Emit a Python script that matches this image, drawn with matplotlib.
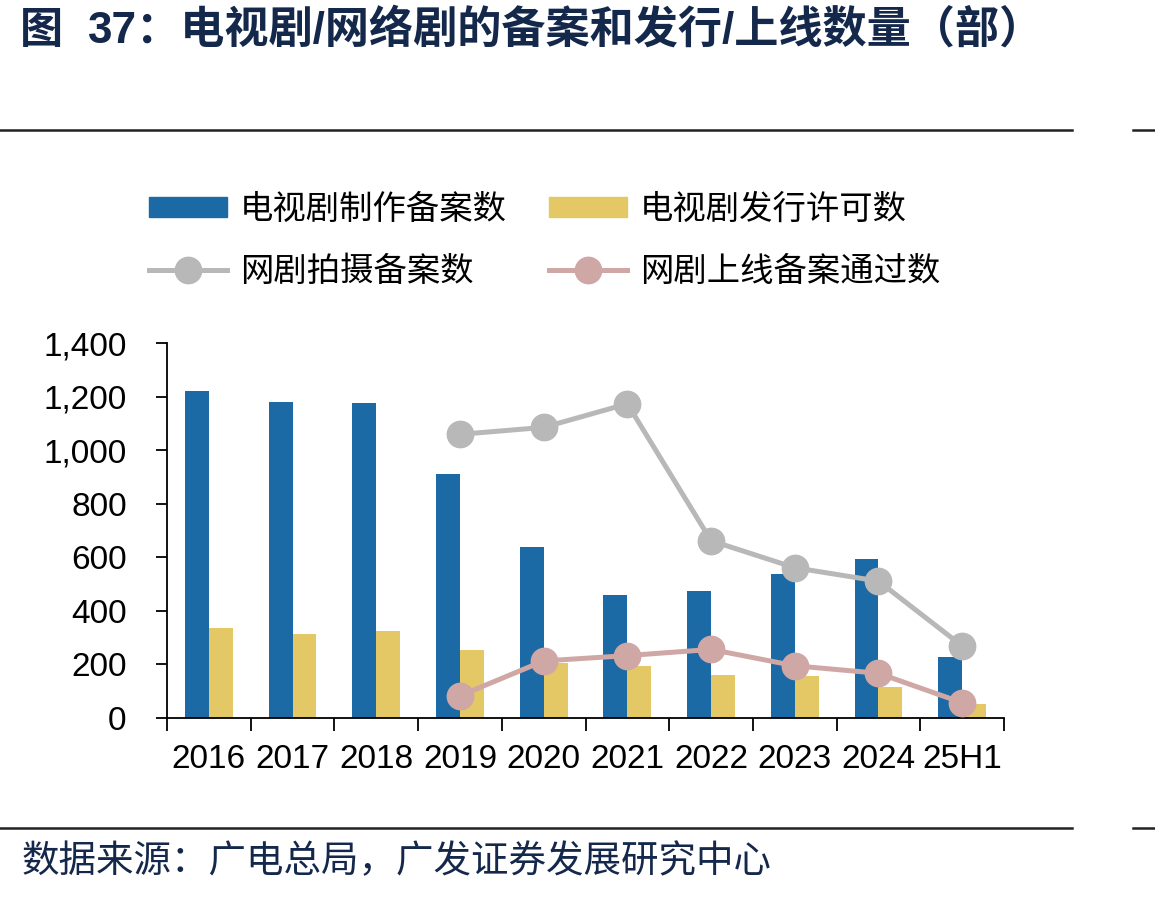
import matplotlib
matplotlib.use('Agg')
import matplotlib.pyplot as plt
from matplotlib.lines import Line2D
from matplotlib.patches import Patch
import numpy as np

# data
years = ['2016', '2017', '2018', '2019', '2020', '2021', '2022', '2023', '2024', '25H1']
tv_record = [1220, 1181, 1175, 912, 637, 458, 473, 537, 593, 229]
tv_license = [335, 314, 324, 254, 204, 194, 159, 157, 115, 52]
web_shoot = [1059, 1085, 1173, 662, 561, 511, 269]
web_online = [83, 213, 233, 256, 195, 167, 57]

cjk = ['Noto Sans CJK SC', 'DejaVu Sans']
latin = ['Liberation Sans', 'Noto Sans CJK SC']
navy = '#14284B'

c_blue = '#1B6AA5'
c_yellow = '#E3C865'
c_gray = '#B8B8B8'
c_pink = '#CFA7A5'

fig = plt.figure(figsize=(11.55, 8.97), dpi=100)
ax = fig.add_axes([167 / 1155, 1 - 718 / 897, 837 / 1155, 375 / 897])

x = np.arange(len(years))
w = 0.285
ax.bar(x - w / 2, tv_record, w, color=c_blue, zorder=2)
ax.bar(x + w / 2, tv_license, w, color=c_yellow, zorder=2)

xl = x[3:]
ax.plot(xl, web_shoot, color=c_gray, lw=3.6, marker='o', ms=19, zorder=3)
ax.plot(xl, web_online, color=c_pink, lw=3.6, marker='o', ms=19, zorder=3)

ax.set_xlim(-0.5, len(years) - 0.5)
ax.set_ylim(0, 1400)
ax.set_yticks(range(0, 1401, 200))
ax.set_yticklabels([f'{v:,}' for v in range(0, 1401, 200)], family=latin, fontsize=24)
ax.set_xticks(np.arange(-0.5, len(years), 1))
ax.set_xticklabels([])
ax.set_xticks(x, minor=True)
ax.set_xticklabels(years, minor=True, family=latin, fontsize=24)
ax.tick_params(axis='x', which='major', length=9, width=1.3, direction='out')
ax.tick_params(axis='x', which='minor', length=0, pad=19)
ax.tick_params(axis='y', length=8, width=1.3, direction='out', pad=21)
for s in ['top', 'right']:
    ax.spines[s].set_visible(False)
for s in ['left', 'bottom']:
    ax.spines[s].set_linewidth(1.3)

handles = [Patch(color=c_blue), Patch(color=c_yellow),
           Line2D([], [], color=c_gray, lw=3.6, marker='o', ms=19),
           Line2D([], [], color=c_pink, lw=3.6, marker='o', ms=19)]
labels = ['电视剧制作备案数', '电视剧发行许可数', '网剧拍摄备案数', '网剧上线备案通过数']
order = [0, 2, 1, 3]
fig.legend([handles[i] for i in order], [labels[i] for i in order],
           loc='upper left', bbox_to_anchor=(149 / 1155, 1 - 192 / 897),
           ncol=2, frameon=False, prop={'family': cjk, 'size': 24},
           handlelength=2.35, handleheight=0.55, handletextpad=0.38,
           columnspacing=1.25, labelspacing=0.8, borderpad=0, borderaxespad=0)

fig.text(20 / 1155, 1 - 30 / 897, '图', family=cjk, fontsize=31,
         fontweight='bold', color=navy, va='center')
fig.text(88 / 1155, 1 - 30 / 897, '37：电视剧/网络剧的备案和发行/上线数量（部）',
         family=latin, fontsize=31.8, fontweight='bold', color=navy, va='center')
fig.text(22 / 1155, 1 - 862 / 897, '数据来源：广电总局，广发证券发展研究中心',
         family=cjk, fontsize=27, color=navy, va='center')

for yy in [130, 828]:
    fig.add_artist(Line2D([0, 1072 / 1155], [1 - yy / 897] * 2, color='#222222', lw=1.8))
    fig.add_artist(Line2D([1133 / 1155, 1], [1 - yy / 897] * 2, color='#222222', lw=1.8))

fig.savefig('out.png', dpi=100)
